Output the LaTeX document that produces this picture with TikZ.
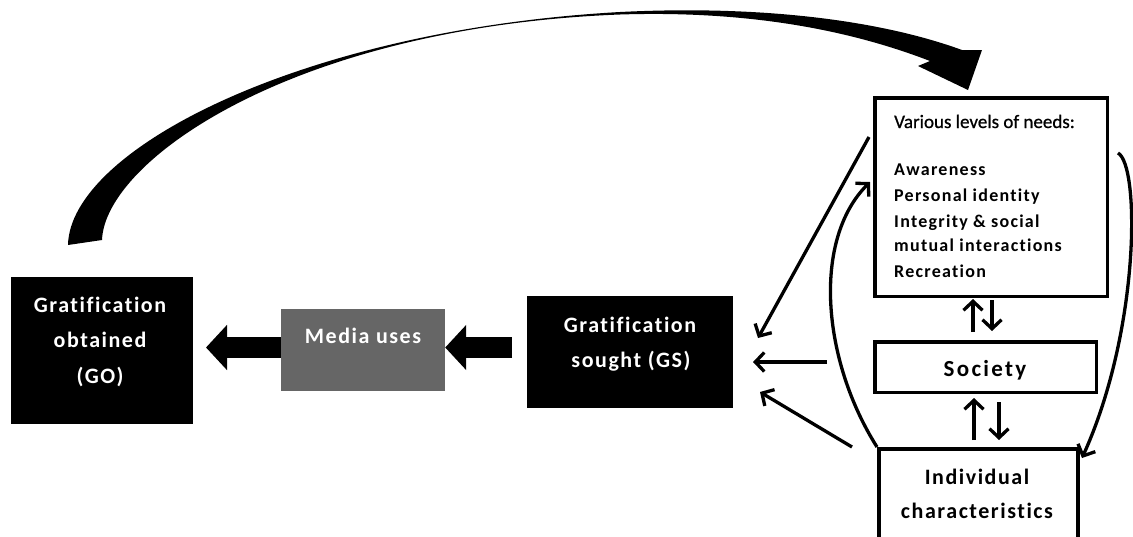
\documentclass[tikz,border=0pt]{standalone}
\usepackage{fontspec}
\setmainfont[Ligatures={NoCommon}]{Carlito}
\newfontfamily\labfont[LetterSpace=7,Ligatures={NoCommon}]{Carlito}
\newfontfamily\socfont[LetterSpace=10,Ligatures={NoCommon}]{Carlito}
\newfontfamily\titfont[FakeBold=0.8,Ligatures={NoCommon}]{Carlito}
\usetikzlibrary{arrows.meta}
\definecolor{mediagray}{HTML}{666666}
\begin{document}
\begin{tikzpicture}[x=1pt,y=-1pt,
  blackbox/.style={fill=black,draw=none,inner sep=0pt,outer sep=0pt},
  wbox/.style={draw=black,fill=white,line width=3.5pt,inner sep=0pt},
  wt/.style={text=white,inner sep=0pt,anchor=base,font=\labfont\bfseries\fontsize{22}{26}\selectfont},
  bt/.style={text=black,inner sep=0pt,anchor=base,font=\labfont\bfseries\fontsize{22}{26}\selectfont},
  item/.style={text=black,inner sep=0pt,anchor=base west,font=\labfont\bfseries\fontsize{18}{22}\selectfont},
  conn/.style={line width=3.3pt,-{Straight Barb[length=9pt,width=19pt,line width=3.3pt]}},
  block/.style={line width=21pt,-{Triangle[length=21pt,width=44pt]}},
]
\clip (0,0) rectangle (1133,536);
\fill[white] (0,0) rectangle (1133,536);

% coordinates for free connector ends
\coordinate (arcA) at (68,245);
\coordinate (arcB) at (102,240);
\coordinate (goTip) at (206,347.5);
\coordinate (gsTail) at (512,347.5);
\coordinate (n1) at (869,137);
\coordinate (t1) at (758,338);
\coordinate (n2) at (827,362);
\coordinate (t2) at (753,362);
\coordinate (n3) at (852,447);
\coordinate (t3) at (760,392);
\coordinate (u1s) at (973,332);
\coordinate (u1e) at (973,299);
\coordinate (d1s) at (992,300);
\coordinate (d1e) at (992,331);
\coordinate (u2s) at (974,440);
\coordinate (u2e) at (974,398);
\coordinate (d2s) at (999,402);
\coordinate (d2e) at (999,440);
\coordinate (lcEnd) at (870,182);
\coordinate (rcStart) at (1118,153);
\coordinate (rcEnd) at (1082,458);

% big curved arrow GO -> needs
\fill[black] (arcA) .. controls (70,150) and (300,30) .. (620,12)
  .. controls (760,5) and (880,20) .. (962,50) -- (982,50) -- (968,90)
  -- (918,66) -- (930,61) .. controls (860,34) and (760,10) .. (620,14.5)
  .. controls (295,27) and (105,160) .. (arcB) -- cycle;

% boxes
\node[blackbox,minimum width=182pt,minimum height=147pt] (go) at (102,350.5) {};
\node[fill=mediagray,draw=none,inner sep=0pt,minimum width=164pt,minimum height=82pt] (media) at (363,350) {};
\node[blackbox,minimum width=206pt,minimum height=112pt] (gs) at (630,352) {};
\node[wbox,minimum width=232.5pt,minimum height=198.5pt] (needs) at (991,197) {};
\node[wbox,minimum width=221.5pt,minimum height=50.5pt] (soc) at (985.5,367) {};
\node[wbox,line width=4pt,minimum width=199pt,minimum height=124pt] (ind) at (978.5,511) {};

% texts
\node[wt] (go1) at (100,312) {Gratification};
\node[wt] (go2) at (100,347.5) {obtained};
\node[wt] (go3) at (100,383) {(GO)};
\node[wt] (mut) at (363,343) {Media uses};
\node[wt] (gs1) at (630,332) {Gratification};
\node[wt] (gs2) at (631,367) {sought (GS)};
\node[bt,font=\socfont\bfseries\fontsize{23}{27}\selectfont] (soct) at (985,376) {Society};
\node[bt] (ind1) at (977,484) {Individual};
\node[bt] (ind2) at (977,518) {characteristics};
\node[anchor=base west,inner sep=0pt,font=\titfont\fontsize{19}{22}\selectfont] (nt) at (894,128) {Various levels of needs:};
\node[item] (i1) at (894,175) {Awareness};
\node[item] (i2) at (894,201.5) {Personal identity};
\node[item] (i3) at (894,227) {Integrity \& social};
\node[item] (i4) at (894,251.5) {mutual interactions};
\node[item] (i5) at (894,277) {Recreation};

% block arrows
\draw[block] (media.west |- goTip) -- (goTip);
\draw[block] (gsTail) -- (media.east |- gsTail);

% thin arrows
\draw[conn] (n1) -- (t1);
\draw[conn] (n2) -- (t2);
\draw[conn] (n3) -- (t3);
\draw[conn] (u1s) -- (u1e);
\draw[conn] (d1s) -- (d1e);
\draw[conn] (u2s) -- (u2e);
\draw[conn] (d2s) -- (d2e);
\draw[conn] (ind.north west) .. controls (822,360) and (812,240) .. (lcEnd);
\draw[conn] (rcStart) .. controls (1140,165) and (1140,330) .. (rcEnd);
\end{tikzpicture}
\end{document}
